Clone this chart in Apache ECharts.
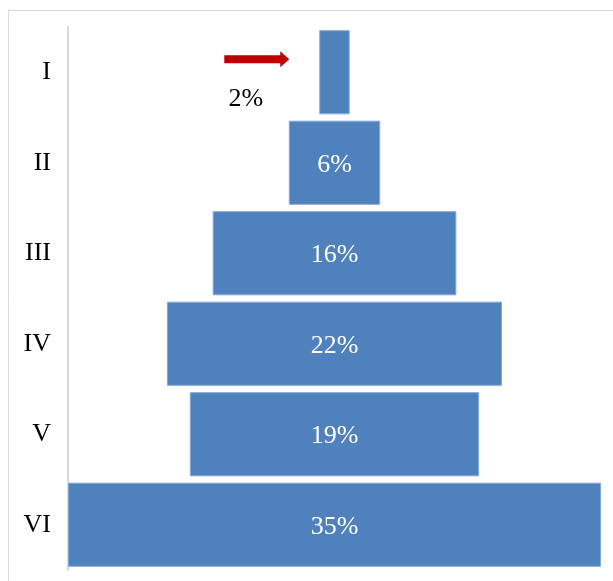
<!DOCTYPE html>
<html>
<head>
<meta charset="utf-8">
<script src="https://cdn.jsdelivr.net/npm/echarts@6/dist/echarts.min.js"></script>
<style>
html,body{margin:0;padding:0;background:#fff;}
#chart{width:613px;height:581px;}
</style>
</head>
<body>
<div id="chart"></div>
<script>
const categories = ['I', 'II', 'III', 'IV', 'V', 'VI'];
const values = [2, 6, 16, 22, 19, 35];
const axisMax = 35;
const highlightIndex = 0;

const offsets = values.map(v => (axisMax - v) / 2);
const FONT = 'Liberation Serif';

const chart = echarts.init(document.getElementById('chart'), null, {renderer: 'canvas'});

const valueData = values.map((v, i) => {
  if (i === highlightIndex) {
    return {
      value: v,
      label: {
        position: 'left',
        distance: 56,
        offset: [0, 27],
        color: '#000000'
      }
    };
  }
  return v;
});

chart.setOption({
  animation: false,
  backgroundColor: '#ffffff',
  grid: {left: 68, right: 12, top: 27, bottom: 11, containLabel: false},
  xAxis: {
    type: 'value', min: 0, max: axisMax, show: false
  },
  yAxis: {
    type: 'category',
    data: categories,
    inverse: true,
    axisLine: {show: true, lineStyle: {color: '#d9d9d9', width: 2}},
    axisTick: {show: false},
    axisLabel: {
      color: '#000000', fontFamily: FONT, fontSize: 26, margin: 17, align: 'right',
      padding: [4, 0, 0, 0]
    },
    splitLine: {show: false}
  },
  series: [
    {
      type: 'bar', stack: 'p', data: offsets, silent: true,
      itemStyle: {color: 'transparent'},
      barCategoryGap: '7%'
    },
    {
      type: 'bar', stack: 'p', data: valueData,
      barCategoryGap: '7%',
      itemStyle: {color: '#4f81bd', borderColor: '#86a8d6', borderWidth: 1},
      label: {
        show: true, position: 'inside', color: '#ffffff',
        fontFamily: FONT, fontSize: 26, offset: [0, 2],
        formatter: p => p.value + '%'
      }
    }
  ]
});

// Red arrow annotation pointing at the highlighted (smallest) bar
const barLeft = chart.convertToPixel({gridIndex: 0}, [offsets[highlightIndex], categories[highlightIndex]]);
const tipX = barLeft[0] - 30;
const cy = barLeft[1] - 13;
chart.setOption({
  graphic: [
    {type: 'rect', shape: {x: 8.5, y: 10.5, width: 800, height: 800},
     style: {fill: 'none', stroke: '#d9d9d9', lineWidth: 1}, silent: true, z: -1},
    {type: 'polygon', shape: {points: [
      [tipX - 65, cy - 4], [tipX - 9, cy - 4], [tipX - 9, cy - 8], [tipX, cy],
      [tipX - 9, cy + 8], [tipX - 9, cy + 4], [tipX - 65, cy + 4]
    ]}, style: {fill: '#c00000'}, silent: true}
  ]
});
</script>
</body>
</html>
